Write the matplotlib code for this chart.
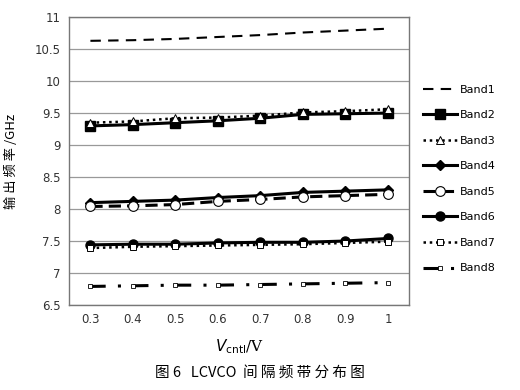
import matplotlib.pyplot as plt

plt.rcParams['font.family'] = ['DejaVu Sans', 'Noto Sans CJK SC']

vctrl = [0.3, 0.4, 0.5, 0.6, 0.7, 0.8, 0.9, 1.0]
xtick_labels = ['0.3', '0.4', '0.5', '0.6', '0.7', '0.8', '0.9', '1']

band1 = [10.63, 10.64, 10.66, 10.69, 10.72, 10.76, 10.79, 10.82]
band2 = [9.30, 9.32, 9.35, 9.38, 9.42, 9.48, 9.49, 9.50]
band3 = [9.35, 9.37, 9.42, 9.43, 9.46, 9.51, 9.53, 9.56]
band4 = [8.10, 8.12, 8.14, 8.18, 8.21, 8.26, 8.28, 8.30]
band5 = [8.04, 8.05, 8.07, 8.12, 8.15, 8.19, 8.21, 8.23]
band6 = [7.44, 7.45, 7.45, 7.47, 7.48, 7.48, 7.50, 7.54]
band7 = [7.39, 7.41, 7.42, 7.43, 7.44, 7.45, 7.47, 7.49]
band8 = [6.79, 6.80, 6.81, 6.81, 6.82, 6.83, 6.84, 6.85]

fig = plt.figure(figsize=(5.2, 3.9), dpi=100)
ax = fig.add_axes([0.133, 0.218, 0.654, 0.738])

ax.plot(vctrl, band1, color='black', lw=1.5, ls=(0, (5, 3.5)), label='Band1')
ax.plot(vctrl, band2, color='black', lw=2.2, marker='s', ms=6.5, label='Band2')
ax.plot(vctrl, band3, color='black', lw=1.8, ls=(0, (1, 1.5)), marker='^', ms=5.5,
        mfc='white', mec='black', mew=0.7, label='Band3')
ax.plot(vctrl, band4, color='black', lw=2.2, marker='D', ms=5.5, label='Band4')
ax.plot(vctrl, band5, color='black', lw=2.2, ls=(0, (4, 2)), marker='o', ms=7,
        mfc='white', mec='black', mew=0.8, label='Band5')
ax.plot(vctrl, band6, color='black', lw=2.2, marker='o', ms=6.5, label='Band6')
ax.plot(vctrl, band7, color='black', lw=1.8, ls=(0, (1, 1.5)), marker='s', ms=5,
        mfc='white', mec='black', mew=0.7, label='Band7')
ax.plot(vctrl, band8, color='black', lw=2.2, ls=(0, (5, 4, 1, 4)), marker='s', ms=3,
        mfc='white', mec='black', mew=0.6, label='Band8')

ax.set_xlim(0.25, 1.05)
ax.set_ylim(6.5, 11)
ax.set_xticks(vctrl)
ax.set_xticklabels(xtick_labels)
ax.set_yticks([6.5, 7, 7.5, 8, 8.5, 9, 9.5, 10, 10.5, 11])
ax.set_yticklabels(['6.5', '7', '7.5', '8', '8.5', '9', '9.5', '10', '10.5', '11'])
ax.tick_params(length=0, labelsize=8.5, pad=6, colors='#333333')
ax.yaxis.grid(True, color='#999999', lw=0.9)
ax.set_axisbelow(True)
for s in ax.spines.values():
    s.set_color('#777777')
    s.set_linewidth(1.0)

ax.set_ylabel('输 出 频 率 /GHz', family=['Noto Sans CJK SC'], fontsize=9.5, labelpad=12)
ax.set_xlabel(r'$V_{\mathrm{cntl}}$/V', family=['DejaVu Serif'], fontsize=11, labelpad=8)

ax.legend(loc='upper left', bbox_to_anchor=(1.025, 0.785), frameon=False,
          fontsize=8, handlelength=3.0, labelspacing=1.4, handletextpad=0.3,
          borderpad=0)

fig.text(0.5, 0.043, '图 6   LCVCO  间 隔 频 带 分 布 图', ha='center', va='center',
         family=['Noto Sans CJK SC'], fontsize=10.5)

fig.savefig('out.png', dpi=100)
